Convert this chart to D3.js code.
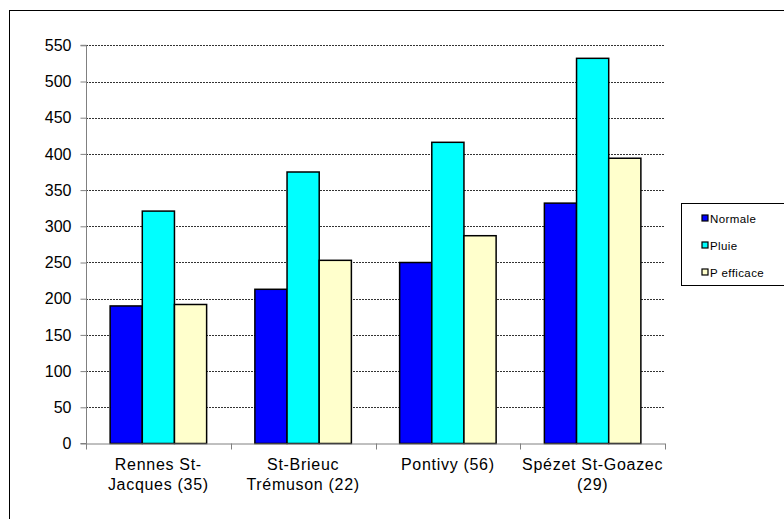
<!DOCTYPE html>
<html>
<head>
<meta charset="utf-8">
<script src="https://cdn.jsdelivr.net/npm/d3@7"></script>
<style>
  html, body { margin: 0; padding: 0; background: #fff; }
  svg { display: block; font-family: "Liberation Sans", Arial, sans-serif; }
</style>
</head>
<body>
<svg id="chart" width="784" height="519"></svg>
<script>
// Stations (two-line labels)
const stations = [
  ["Rennes St-", "Jacques (35)"],
  ["St-Brieuc", "Trémuson (22)"],
  ["Pontivy (56)"],
  ["Spézet St-Goazec", "(29)"]
];
const seriesNames = ["Normale", "Pluie", "P efficace"];
const seriesColors = ["#0000ff", "#00ffff", "#ffffcc"];
const normale   = [190, 213, 250, 332];
const pluie     = [321, 375, 416, 532];
const pEfficace = [192, 253, 287, 394];
const yTicks = [0, 50, 100, 150, 200, 250, 300, 350, 400, 450, 500, 550];

const svg = d3.select("#chart");
const plot = { left: 86, right: 665, top: 45.3, bottom: 443.5 };

// Outer chart frame
svg.append("rect")
  .attr("x", 9.5).attr("y", 10.5)
  .attr("width", 900).attr("height", 700)
  .attr("fill", "none").attr("stroke", "#000").attr("stroke-width", 1);

const x0 = d3.scaleBand()
  .domain(d3.range(stations.length))
  .range([plot.left, plot.right])
  .paddingInner(0).paddingOuter(0);

const x1 = d3.scaleBand()
  .domain(d3.range(seriesNames.length))
  .range([0, x0.bandwidth()])
  .paddingInner(0)
  .paddingOuter(0.75);

const y = d3.scaleLinear().domain([0, 550]).range([plot.bottom, plot.top]);

// Horizontal gridlines
svg.append("g")
  .selectAll("line")
  .data(yTicks.filter(d => d > 0))
  .join("line")
  .attr("x1", plot.left).attr("x2", plot.right)
  .attr("y1", d => Math.round(y(d)) + 0.5).attr("y2", d => Math.round(y(d)) + 0.5)
  .attr("stroke", "#333").attr("stroke-width", 1)
  .attr("stroke-dasharray", "2,1");

// Bars
const rows = stations.map((s, i) => [normale[i], pluie[i], pEfficace[i]]);
const groups = svg.append("g")
  .selectAll("g")
  .data(rows)
  .join("g")
  .attr("transform", (d, i) => `translate(${x0(i)},0)`);

groups.selectAll("rect")
  .data(d => d.map((v, k) => ({ v, k })))
  .join("rect")
  .attr("x", d => x1(d.k))
  .attr("y", d => y(d.v))
  .attr("width", x1.bandwidth())
  .attr("height", d => y(0) - y(d.v))
  .attr("fill", d => seriesColors[d.k])
  .attr("stroke", "#000")
  .attr("stroke-width", 1.5);

// Y axis
const yAxis = d3.axisLeft(y).tickValues(yTicks).tickSize(6).tickPadding(9);
const gy = svg.append("g")
  .attr("transform", `translate(${plot.left + 0.5},0)`)
  .call(yAxis);
gy.select(".domain").attr("stroke", "#808080").attr("d", `M-6,${y(550)}H0V${y(0)}H-6`);
gy.selectAll(".tick line").attr("stroke", "#808080");
gy.selectAll(".tick text")
  .attr("font-size", 16).attr("fill", "#000")
  .attr("font-family", "'Liberation Sans', Arial, sans-serif");

// X axis line and category separators
const gx = svg.append("g");
gx.append("line")
  .attr("x1", plot.left).attr("x2", plot.right)
  .attr("y1", plot.bottom + 0.5).attr("y2", plot.bottom + 0.5)
  .attr("stroke", "#808080");
const bounds = d3.range(stations.length + 1).map(i =>
  i < stations.length ? x0(i) : x0(stations.length - 1) + x0.bandwidth());
gx.selectAll("line.sep")
  .data(bounds)
  .join("line")
  .attr("class", "sep")
  .attr("x1", d => Math.round(d) + 0.5).attr("x2", d => Math.round(d) + 0.5)
  .attr("y1", plot.bottom).attr("y2", plot.bottom + 6)
  .attr("stroke", "#808080");

// Category labels
const labels = svg.append("g")
  .selectAll("text")
  .data(stations)
  .join("text")
  .attr("text-anchor", "middle")
  .attr("font-size", 16)
  .attr("letter-spacing", "0.7px")
  .attr("fill", "#000")
  .attr("transform", (d, i) => `translate(${x0(i) + x0.bandwidth() / 2},0)`);
labels.selectAll("tspan")
  .data(d => d)
  .join("tspan")
  .attr("x", 0)
  .attr("y", (d, j) => 470 + j * 20)
  .text(d => d);

// Legend
const legend = svg.append("g");
legend.append("rect")
  .attr("x", 681.5).attr("y", 203.5)
  .attr("width", 150).attr("height", 82)
  .attr("fill", "#fff").attr("stroke", "#000").attr("stroke-width", 1);
const items = legend.selectAll("g.item")
  .data(seriesNames)
  .join("g")
  .attr("class", "item")
  .attr("transform", (d, i) => `translate(702,${219 + i * 27})`);
items.append("rect")
  .attr("x", 0).attr("y", -4)
  .attr("width", 6).attr("height", 6)
  .attr("fill", (d, i) => seriesColors[i])
  .attr("stroke", "#000").attr("stroke-width", 1.2);
items.append("text")
  .attr("x", 8).attr("y", 3.5)
  .attr("font-size", 11.5)
  .attr("letter-spacing", "0.4px")
  .attr("fill", "#000")
  .text(d => d);
</script>
</body>
</html>
